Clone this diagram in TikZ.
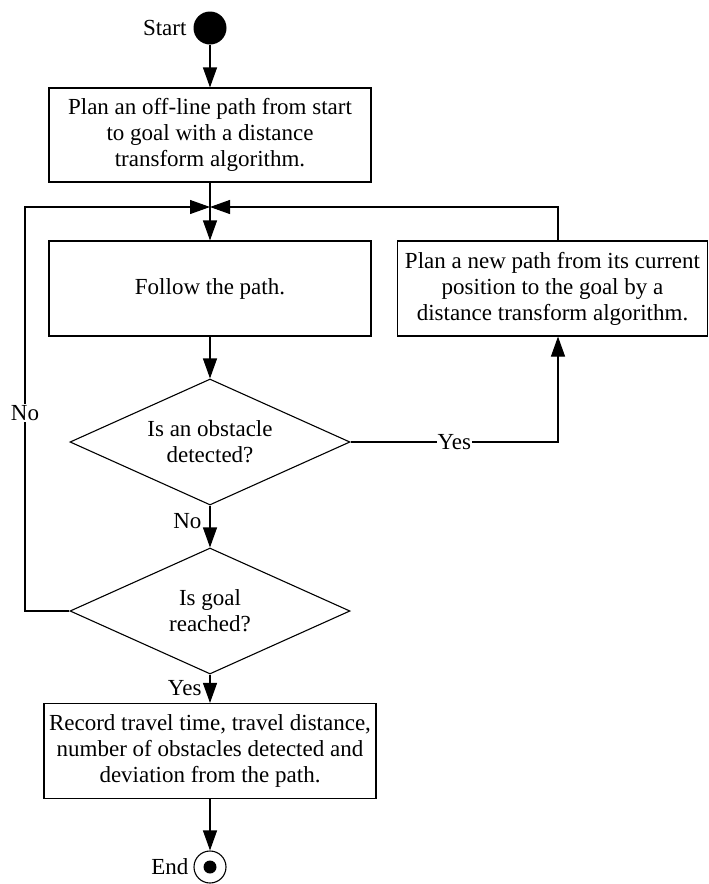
\documentclass[tikz,border=0pt]{standalone}
\usepackage{fontspec}
\setmainfont{Liberation Serif}
\usetikzlibrary{shapes.geometric,arrows.meta}
\begin{document}
\begin{tikzpicture}[x=1pt,y=-1pt,
  font=\fontsize{23}{26}\selectfont,
  line width=1.1pt,
  box/.style={draw,rectangle,align=center,inner sep=0pt},
  dec/.style={draw,diamond,aspect=2.22,minimum width=280pt,minimum height=126pt,inner sep=0pt,align=center},
  arr/.style={-{Triangle[length=20pt,width=14pt]}},
  lbl/.style={fill=white,inner sep=1pt}]
\useasboundingbox (0,0) rectangle (709,884);
\node[circle,fill,minimum size=33pt,inner sep=0pt] (start) at (210,28) {};
\node[anchor=east,inner sep=0pt] (startl) at (187,28) {Start};
\node[box,minimum width=322pt,minimum height=94pt] (b1) at (210,135)
  {Plan an off-line path from start\\to goal with a distance\\transform algorithm.};
\coordinate (m) at (210,207);
\node[box,minimum width=322pt,minimum height=95pt] (b2) at (210,288.5) {Follow the path.};
\node[box,minimum width=310pt,minimum height=95pt] (b3) at (552.5,288.5)
  {Plan a new path from its current\\position to the goal by a\\distance transform algorithm.};
\node[dec] (d1) at (210,442) {Is an obstacle\\detected?};
\node[dec] (d2) at (210,611) {Is goal\\reached?};
\node[box,minimum width=332pt,minimum height=95pt] (b4) at (210,751)
  {Record travel time, travel distance,\\number of obstacles detected and\\deviation from the path.};
\node[circle,draw,minimum size=32pt,inner sep=0pt] (end) at (210,867) {};
\fill (end.center) circle (6.5pt);
\node[anchor=east,inner sep=0pt] (endl) at (189,867) {End};
\coordinate (ll) at (25,611);
\coordinate (lt) at (25,207);
\coordinate (ry) at (558,442);
\coordinate (rt) at (558,207);
\draw[arr] (start) -- (b1);
\draw (b1.south) -- (m);
\draw[arr] (m) -- (b2.north);
\draw[arr] (d2.west) -- (ll) -- node[lbl,pos=0.49] {No} (lt) -- (m);
\draw[arr] (ry |- b3.north) -- (rt) -- (m);
\draw[arr] (d1.east) -- node[lbl,pos=0.5] {Yes} (ry) -- (ry |- b3.south);
\draw[arr] (b2) -- (d1);
\draw[arr] (d1) -- (d2);
\node[anchor=east,inner sep=0pt] (no1) at (202,521) {No};
\draw[arr] (d2) -- (b4);
\node[anchor=east,inner sep=0pt] (yes2) at (202,688) {Yes};
\draw[arr] (b4) -- (end);
\end{tikzpicture}
\end{document}
